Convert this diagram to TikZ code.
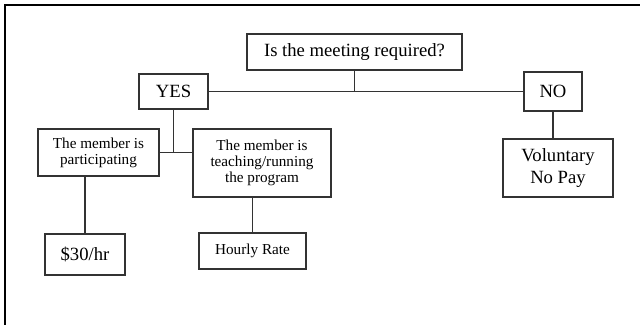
\documentclass[tikz,border=0pt]{standalone}
\usepackage{fontspec}
\setmainfont{Liberation Serif}
\usepackage{tikz}

\definecolor{linegray}{HTML}{333333}
\tikzset{
	box/.style={draw=linegray, line width=1.1pt, inner sep=0pt, align=center},
	bigtext/.style={font=\fontsize{14}{16.5}\selectfont},
	smalltext/.style={font=\fontsize{11.4}{12}\selectfont},
	link/.style={draw=linegray, line width=1.1pt}
}

\begin{document}
\begin{tikzpicture}[x=0.75pt,y=0.75pt,yscale=-1,xscale=1]
		\useasboundingbox (0,0) rectangle (640,325);
		
		%Shape: Frame 
		\draw [line width=1.5pt] (5,325) -- (5,5) -- (640,5) ;
		
		%Shape: Rectangle [question] 
		\node [box, bigtext, minimum width=161.25pt, minimum height=27pt] (ques) at (354.5,52) {Is the meeting required?};
		%Shape: Rectangle [yes] 
		\node [box, bigtext, minimum width=51.75pt, minimum height=26.25pt] (yes) at (173.5,91.5) {YES};
		%Shape: Rectangle [no] 
		\node [box, bigtext, minimum width=43.5pt, minimum height=29.25pt] (no) at (553,91.5) {NO};
		%Shape: Rectangle [participating] 
		\node [box, smalltext, minimum width=90.75pt, minimum height=35.25pt] (part) at (98.5,152.5) {The member is\\participating};
		%Shape: Rectangle [teaching] 
		\node [box, smalltext, minimum width=103.5pt, minimum height=51pt] (teach) at (262,163) {The member is\\teaching/running\\the program};
		%Shape: Rectangle [voluntary] 
		\node [box, bigtext, minimum width=82.5pt, minimum height=43.5pt] (vol) at (558,168) {Voluntary\\No Pay};
		%Shape: Rectangle [thirty] 
		\node [box, bigtext, minimum width=60pt, minimum height=30.75pt] (thirty) at (85,254.5) {\$30/hr};
		%Shape: Rectangle [hourly] 
		\node [box, smalltext, minimum width=80.25pt, minimum height=27pt] (hourly) at (252.5,251) {Hourly Rate};
		
		%Straight Lines 
		\draw [link] (yes.east) -- (no.west) ;
		%Straight Lines 
		\draw [link] (ques.south) -- (ques.south |- yes.east) ;
		%Straight Lines 
		\draw [link] (yes.south) -- (yes.south |- part.east) ;
		%Straight Lines 
		\draw [link] (part.east) -- (part.east -| teach.west) ;
		%Straight Lines 
		\draw [link] (thirty.north) -- (thirty.north |- part.south) ;
		%Straight Lines 
		\draw [link] (hourly.north) -- (hourly.north |- teach.south) ;
		%Straight Lines 
		\draw [link] (no.south) -- (no.south |- vol.north) ;
		
		\end{tikzpicture}
\end{document}
